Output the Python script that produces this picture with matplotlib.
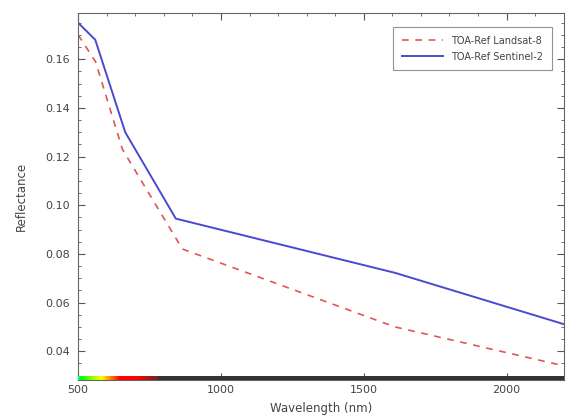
import numpy as np
import matplotlib
matplotlib.use('Agg')
import matplotlib.pyplot as plt
from matplotlib.ticker import MultipleLocator

# band centres (nm) and top-of-atmosphere reflectance
wl_l8 = [500, 561, 655, 865, 1609, 2201]
toa_l8 = [0.170, 0.159, 0.123, 0.082, 0.050, 0.034]
wl_s2 = [500, 560, 665, 842, 1610, 2190, 2201]
toa_s2 = [0.175, 0.168, 0.130, 0.0945, 0.0722, 0.0515, 0.0511]


def wavelength_to_rgb(w):
    # rough visible spectrum colour, dark grey outside it
    if 380 <= w < 440:
        r, g, b = -(w - 440) / 60, 0.0, 1.0
    elif 440 <= w < 490:
        r, g, b = 0.0, (w - 440) / 50, 1.0
    elif 490 <= w < 510:
        r, g, b = 0.0, 1.0, -(w - 510) / 20
    elif 510 <= w < 580:
        r, g, b = (w - 510) / 70, 1.0, 0.0
    elif 580 <= w < 645:
        r, g, b = 1.0, -(w - 645) / 65, 0.0
    elif 645 <= w <= 780:
        r, g, b = 1.0, 0.0, 0.0
    else:
        r, g, b = 1.0, 1.0, 1.0
    if 700 < w <= 780:
        f = 0.3 + 0.7 * (780 - w) / 80
        return (r * f + 0.2 * (1 - f), 0.2 * (1 - f), 0.2 * (1 - f))
    elif w > 780:
        return (0.2, 0.2, 0.2)
    return (r, g, b)


fig = plt.figure(figsize=(5.66, 4.19), dpi=100)
ax = fig.add_axes([0.138, 0.092, 0.858, 0.877])

ax.plot(wl_l8, toa_l8, color='#e05555', ls=(0, (4, 4)), lw=1.2, label='TOA-Ref Landsat-8')
ax.plot(wl_s2, toa_s2, color='#4a4ad0', lw=1.4, label='TOA-Ref Sentinel-2')

ax.set_xlim(500, 2200)
ax.set_ylim(0.028, 0.179)

# spectrum strip along the bottom axis
wl = np.linspace(500, 2200, 400)
strip = np.array([wavelength_to_rgb(w) for w in wl])[None, :, :]
ax.imshow(strip, extent=(500, 2200, 0.028, 0.0293), aspect='auto', zorder=3)

ax.xaxis.set_major_locator(MultipleLocator(500))
ax.xaxis.set_minor_locator(MultipleLocator(100))
ax.yaxis.set_major_locator(MultipleLocator(0.02))
ax.yaxis.set_minor_locator(MultipleLocator(0.005))
ax.tick_params(which='both', direction='in', top=True, right=True, colors='#555555',
               labelsize=8, labelcolor='#444444')
ax.tick_params(which='major', length=5)
ax.tick_params(which='minor', length=2.5)
ax.tick_params(axis='y', pad=6)
ax.set_yticklabels(['%.2f' % t for t in ax.get_yticks()])
for s in ax.spines.values():
    s.set_color('#666666')

ax.set_xlabel('Wavelength (nm)', fontsize=8.5, color='#444444', labelpad=5)
ax.set_ylabel('Reflectance', fontsize=8.5, color='#444444', labelpad=12)

leg = ax.legend(loc='upper right', fontsize=7, frameon=True, fancybox=False,
                edgecolor='#777777', handlelength=4.2, borderpad=0.9,
                labelspacing=0.6, bbox_to_anchor=(0.985, 0.975))
leg.get_frame().set_linewidth(0.8)
for t in leg.get_texts():
    t.set_color('#444444')

fig.savefig('out.png', dpi=100)
